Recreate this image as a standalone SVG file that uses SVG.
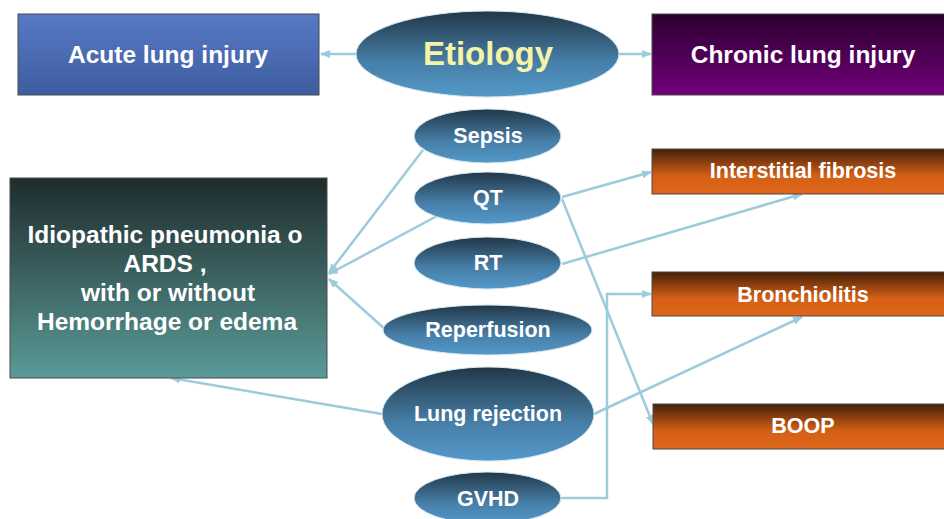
<svg xmlns="http://www.w3.org/2000/svg" width="944" height="519" viewBox="0 0 944 519">
<defs>
<linearGradient id="gBlue" x1="0" y1="0" x2="0" y2="1"><stop offset="0" stop-color="#577ac6"/><stop offset="1" stop-color="#3e5d9f"/></linearGradient>
<linearGradient id="gPurple" x1="0" y1="0" x2="0" y2="1"><stop offset="0" stop-color="#2c0030"/><stop offset="1" stop-color="#700078"/></linearGradient>
<linearGradient id="gTeal" x1="0" y1="0" x2="0" y2="1"><stop offset="0" stop-color="#1e2b2c"/><stop offset="1" stop-color="#5a9b97"/></linearGradient>
<linearGradient id="gOrange" x1="0" y1="0" x2="0" y2="1"><stop offset="0" stop-color="#452008"/><stop offset="0.6" stop-color="#d46016"/><stop offset="1" stop-color="#df6619"/></linearGradient>
<linearGradient id="gEll" x1="0" y1="0" x2="0" y2="1"><stop offset="0" stop-color="#213748"/><stop offset="0.6" stop-color="#477fa8"/><stop offset="1" stop-color="#5399c9"/></linearGradient>
<marker id="arr" viewBox="0 0 10 10" refX="9" refY="5" markerWidth="4" markerHeight="4" orient="auto" markerUnits="strokeWidth"><path d="M0,1 L10,5 L0,9 z" fill="#9ccbdc"/></marker>
</defs>
<style>
text{font-family:"Liberation Sans",Arial,sans-serif;font-weight:bold;fill:#ffffff;text-anchor:middle}
.box{stroke:#4a4a4a;stroke-width:1}
.ell{fill:url(#gEll);stroke:#d8e8f0;stroke-width:1}
.con{fill:none;stroke:#9ccbdc;stroke-width:2.5}
.t24{font-size:24.5px}
.t21{font-size:21.5px}
</style>
<rect width="944" height="519" fill="#ffffff"/>
<g id="connectors">
<line class="con" x1="356" y1="54" x2="321" y2="54" marker-end="url(#arr)"/>
<line class="con" x1="619" y1="54" x2="651" y2="54" marker-end="url(#arr)"/>
<line class="con" x1="423" y1="150" x2="329" y2="273" marker-end="url(#arr)"/>
<line class="con" x1="437" y1="216" x2="329" y2="274" marker-end="url(#arr)"/>
<line class="con" x1="386" y1="330" x2="329" y2="279" marker-end="url(#arr)"/>
<line class="con" x1="382" y1="414" x2="171" y2="378" marker-end="url(#arr)"/>
<line class="con" x1="562" y1="197" x2="651" y2="172" marker-end="url(#arr)"/>
<line class="con" x1="562" y1="264" x2="802" y2="194" marker-end="url(#arr)"/>
<line class="con" x1="562" y1="199" x2="653" y2="424" marker-end="url(#arr)"/>
<line class="con" x1="594" y1="414" x2="802" y2="317" marker-end="url(#arr)"/>
<polyline class="con" points="561,498 607,498 607,294 651,294" marker-end="url(#arr)"/>
</g>
<g id="acute">
<rect class="box" x="18" y="14" width="301" height="81" fill="url(#gBlue)" stroke="#8fa6d4"/>
<text class="t24" x="168" y="63">Acute lung injury</text>
</g>
<g id="etiology">
<ellipse class="ell" cx="487.5" cy="54" rx="131.5" ry="43"/>
<text x="488" y="65" font-size="33" style="fill:#f5f4a6">Etiology</text>
</g>
<g id="chronic">
<rect class="box" x="652" y="14" width="300" height="81" fill="url(#gPurple)"/>
<text class="t24" x="803" y="63">Chronic lung injury</text>
</g>
<g id="sepsis">
<ellipse class="ell" cx="487.5" cy="136" rx="73.5" ry="27"/>
<text class="t21" x="488" y="143">Sepsis</text>
</g>
<g id="qt">
<ellipse class="ell" cx="487.5" cy="198" rx="73.5" ry="26"/>
<text class="t21" x="488" y="205">QT</text>
</g>
<g id="rt">
<ellipse class="ell" cx="487.5" cy="263" rx="73.5" ry="26"/>
<text class="t21" x="488" y="270">RT</text>
</g>
<g id="reperfusion">
<ellipse class="ell" cx="487.5" cy="330" rx="104.5" ry="25"/>
<text class="t21" x="488" y="337">Reperfusion</text>
</g>
<g id="lungrejection">
<ellipse class="ell" cx="488" cy="414" rx="106" ry="47"/>
<text class="t21" x="488" y="421">Lung rejection</text>
</g>
<g id="gvhd">
<ellipse class="ell" cx="487.5" cy="498" rx="73.5" ry="26"/>
<text class="t21" x="488" y="506">GVHD</text>
</g>
<g id="idiopathic">
<rect class="box" x="10" y="178" width="317" height="200" fill="url(#gTeal)"/>
<text class="t24" x="165" y="243">Idiopathic pneumonia o</text>
<text class="t24" x="165" y="272">ARDS ,</text>
<text class="t24" x="168" y="301">with or without</text>
<text class="t24" x="167" y="330">Hemorrhage or edema</text>
</g>
<g id="interstitial">
<rect class="box" x="652" y="149" width="300" height="45" fill="url(#gOrange)"/>
<text class="t21" x="803" y="178">Interstitial fibrosis</text>
</g>
<g id="bronchiolitis">
<rect class="box" x="652" y="272" width="300" height="44" fill="url(#gOrange)"/>
<text class="t21" x="803" y="302">Bronchiolitis</text>
</g>
<g id="boop">
<rect class="box" x="653" y="404" width="300" height="45" fill="url(#gOrange)"/>
<text class="t21" x="803" y="433">BOOP</text>
</g>
</svg>
